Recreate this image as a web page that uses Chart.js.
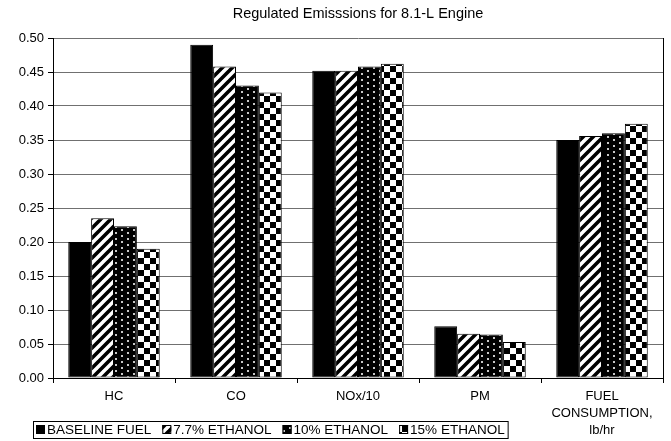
<!DOCTYPE html>
<html>
<head>
<meta charset="utf-8">
<script src="https://cdn.jsdelivr.net/npm/chart.js@4.4.0/dist/chart.umd.min.js"></script>
<style>
  html, body { margin: 0; padding: 0; background: #fff; }
  #wrap { width: 671px; height: 441px; }
</style>
</head>
<body>
<div id="wrap"><canvas id="emChart"></canvas></div>
<script>
// ------------------------------------------------------------
// Regulated emissions chart data
// ------------------------------------------------------------
const categories = ["HC", "CO", "NOx/10", "PM", ["FUEL", "CONSUMPTION,", "lb/hr"]];
const seriesNames = ["BASELINE FUEL", "7.7% ETHANOL", "10% ETHANOL", "15% ETHANOL"];
const baseline = [0.200, 0.490, 0.452, 0.076, 0.350];
const eth77 = [0.235, 0.458, 0.452, 0.065, 0.356];
const eth10 = [0.223, 0.430, 0.458, 0.064, 0.360];
const eth15 = [0.190, 0.420, 0.462, 0.053, 0.374];
const chartTitle = "Regulated Emisssions for 8.1-L Engine";

const FONT = "'Liberation Sans', Arial, sans-serif";

// ------------------------------------------------------------
// Fill patterns (black & white, like the original print)
// ------------------------------------------------------------
function makeTile(w, h, draw) {
  const c = document.createElement("canvas");
  c.width = w;
  c.height = h;
  const g = c.getContext("2d");
  draw(g, w, h);
  return document.createElement("canvas").getContext("2d").createPattern(c, "repeat");
}

const stripes = makeTile(10, 10, (g, w, h) => {
  g.fillStyle = "#fff";
  g.fillRect(0, 0, w, h);
  g.strokeStyle = "#000";
  g.lineWidth = 3.6;
  g.beginPath();
  for (let k = -1; k <= 1; k++) {
    g.moveTo(k * w - 1, h + 1);
    g.lineTo(k * w + w + 1, -1);
  }
  g.stroke();
});

const dots = makeTile(12, 6, (g, w, h) => {
  g.fillStyle = "#000";
  g.fillRect(0, 0, w, h);
  g.fillStyle = "#c8c8c8";
  g.fillRect(1, 1, 2, 2);
  g.fillRect(7, 4, 2, 2);
});

const checks = makeTile(12, 12, (g, w, h) => {
  g.fillStyle = "#fff";
  g.fillRect(0, 0, w, h);
  g.fillStyle = "#000";
  g.fillRect(0, 0, 6, 6);
  g.fillRect(6, 6, 6, 6);
});

const fills = ["#000", stripes, dots, checks];
const seriesData = [baseline, eth77, eth10, eth15];

// ------------------------------------------------------------
// Plugins: title over plot area, right border, boxed legend
// ------------------------------------------------------------
const decorPlugin = {
  id: "decor",
  afterDraw(chart) {
    const ctx = chart.ctx;
    const a = chart.chartArea;
    ctx.save();

    // right border of plot area
    ctx.strokeStyle = "#000";
    ctx.lineWidth = 1;
    ctx.beginPath();
    ctx.moveTo(a.right + 0.5, a.top);
    ctx.lineTo(a.right + 0.5, a.bottom);
    ctx.stroke();

    // title
    ctx.fillStyle = "#000";
    ctx.font = "14.5px " + FONT;
    ctx.textAlign = "center";
    ctx.textBaseline = "middle";
    ctx.fillText(chartTitle, (a.left + a.right) / 2, 14);

    // legend
    ctx.font = "13.5px " + FONT;
    ctx.textAlign = "left";
    const boxX = 33, boxY = 421, boxH = 17;
    let x = boxX + 3;
    const cy = boxY + boxH / 2;
    chart.data.datasets.forEach((ds, i) => {
      if (i > 0) x += 8;
      ctx.fillStyle = ds.backgroundColor;
      ctx.fillRect(x, cy - 4.5, 9, 9);
      ctx.strokeStyle = "#000";
      ctx.strokeRect(x + 0.5, cy - 4, 8, 8);
      x += 11;
      ctx.fillStyle = "#000";
      ctx.fillText(ds.label, x, cy + 1);
      x += ctx.measureText(ds.label).width + 3;
    });
    ctx.strokeStyle = "#000";
    ctx.strokeRect(boxX + 0.5, boxY + 0.5, x - boxX, boxH);

    ctx.restore();
  },
};

// ------------------------------------------------------------
// Chart
// ------------------------------------------------------------
new Chart(document.getElementById("emChart"), {
  type: "bar",
  data: {
    labels: categories,
    datasets: seriesNames.map((name, i) => ({
      label: name,
      data: seriesData[i],
      backgroundColor: fills[i],
      borderColor: "#000",
      borderWidth: 1,
      borderSkipped: false,
      categoryPercentage: 0.75,
      barPercentage: 1.0,
    })),
  },
  options: {
    responsive: true,
    maintainAspectRatio: false,
    animation: false,
    layout: { padding: { top: 38, right: 8, left: 0, bottom: 0 } },
    plugins: {
      legend: { display: false },
      title: { display: false },
      tooltip: { enabled: false },
    },
    scales: {
      x: {
        afterFit: (s) => { s.height = 63; },
        grid: {
          offset: true,
          drawOnChartArea: false,
          color: "#000",
          tickLength: 5,
        },
        border: { color: "#000" },
        ticks: {
          color: "#000",
          font: { family: FONT, size: 13, lineHeight: 1.3 },
          padding: 5,
          maxRotation: 0,
          autoSkip: false,
        },
      },
      y: {
        min: 0,
        max: 0.5,
        afterFit: (s) => { s.width = 53; },
        grid: {
          color: "#707070",
          tickColor: "#000",
          tickLength: 5,
        },
        border: { color: "#000" },
        ticks: {
          stepSize: 0.05,
          color: "#000",
          font: { family: FONT, size: 13 },
          padding: 4,
          callback: (v) => v.toFixed(2),
        },
      },
    },
  },
  plugins: [decorPlugin],
});
</script>
</body>
</html>
